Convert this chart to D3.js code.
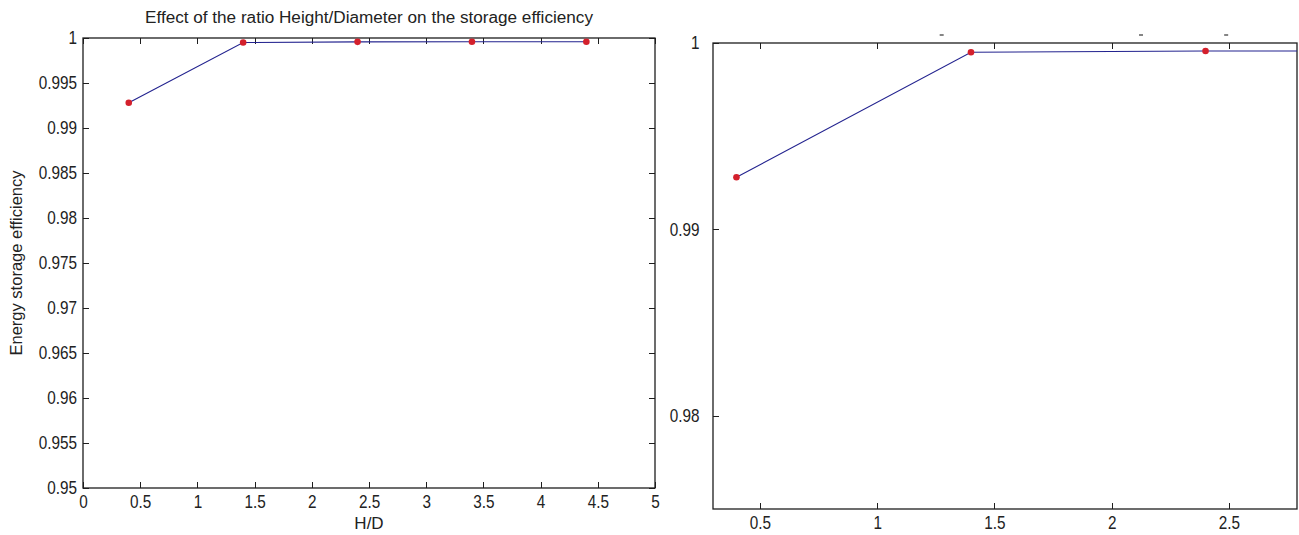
<!DOCTYPE html>
<html>
<head>
<meta charset="utf-8">
<script src="https://cdn.jsdelivr.net/npm/d3@7"></script>
<style>
  html, body { margin: 0; padding: 0; background: #fff; }
  svg { display: block; }
  text { font-family: "Liberation Sans", Arial, sans-serif; fill: #222; }
  .axis path.domain { display: none; }
  .axis line { stroke: #1e1e1e; stroke-width: 1; shape-rendering: crispEdges; }
  .axis text { font-size: 18px; }
</style>
</head>
<body>
<svg id="chart" width="1299" height="535"></svg>
<script>
// Height/Diameter ratio and the resulting energy storage efficiency
const ratioHD = [0.4, 1.4, 2.4, 3.4, 4.4];
const efficiency = [0.9928, 0.9995, 0.99957, 0.99958, 0.99958];

// Tick values for the full view (left) and the zoomed view (right)
const fullXTicks = [0, 0.5, 1, 1.5, 2, 2.5, 3, 3.5, 4, 4.5, 5];
const fullYTicks = [0.95, 0.955, 0.96, 0.965, 0.97, 0.975, 0.98, 0.985, 0.99, 0.995, 1];
const zoomXTicks = [0.5, 1, 1.5, 2, 2.5];
const zoomYTicks = [0.98, 0.99, 1];
// Fragments of a title cut off above the zoomed view
const zoomTitleMarks = [1.275, 2.125, 2.488];

const titleText = "Effect of the ratio Height/Diameter on the storage efficiency";
const xLabelText = "H/D";
const yLabelText = "Energy storage efficiency";

const svg = d3.select("#chart");
const fmt = v => String(+v.toFixed(3));
const lineColor = "#23238f";
const dotColor = "#d4202c";
const narrow = "scale(0.85,1)";

function drawPanel(opts) {
  const { left, right, top, bottom, xDomain, yDomain, xTicks, yTicks, id, showRight, yPad } = opts;
  const x = d3.scaleLinear().domain(xDomain).range([left, right]);
  const y = d3.scaleLinear().domain(yDomain).range([bottom, top]);
  const g = svg.append("g");

  g.append("clipPath").attr("id", id)
    .append("rect").attr("x", left).attr("y", top)
    .attr("width", right - left).attr("height", bottom - top);

  const tk = 6;
  g.append("g").attr("class", "axis").attr("transform", `translate(0,${bottom})`)
    .call(d3.axisBottom(x).tickValues(xTicks).tickFormat(fmt).tickSizeInner(-tk).tickSizeOuter(0).tickPadding(7))
    .selectAll("text").attr("transform", narrow);
  g.append("g").attr("class", "axis").attr("transform", `translate(0,${top})`)
    .call(d3.axisTop(x).tickValues(xTicks).tickFormat("").tickSizeInner(-tk).tickSizeOuter(0));
  g.append("g").attr("class", "axis").attr("transform", `translate(${left},0)`)
    .call(d3.axisLeft(y).tickValues(yTicks).tickFormat(fmt).tickSizeInner(-tk).tickSizeOuter(0).tickPadding(yPad))
    .selectAll("text").attr("transform", narrow);
  if (showRight) {
    g.append("g").attr("class", "axis").attr("transform", `translate(${right},0)`)
      .call(d3.axisRight(y).tickValues(yTicks).tickFormat("").tickSizeInner(-tk).tickSizeOuter(0));
  }

  // axes box
  g.append("rect").attr("x", left).attr("y", top)
    .attr("width", right - left).attr("height", bottom - top)
    .attr("fill", "none").attr("stroke", "#1e1e1e").attr("stroke-width", 1.3);

  const pts = ratioHD.map((d, i) => [d, efficiency[i]]);
  const plot = g.append("g").attr("clip-path", `url(#${id})`);
  plot.append("path").datum(pts)
    .attr("d", d3.line().x(d => x(d[0])).y(d => y(d[1])))
    .attr("fill", "none").attr("stroke", lineColor).attr("stroke-width", 1.1);
  plot.selectAll("circle").data(pts).join("circle")
    .attr("cx", d => x(d[0])).attr("cy", d => y(d[1]))
    .attr("r", 3.3).attr("fill", dotColor);

  return { x, y, g };
}

// Full view
const full = drawPanel({
  id: "clipFull", left: 83, right: 655, top: 38, bottom: 488,
  xDomain: [0, 5], yDomain: [0.95, 1],
  xTicks: fullXTicks, yTicks: fullYTicks, showRight: true, yPad: 7
});
full.g.append("text").attr("x", 369).attr("y", 23)
  .attr("text-anchor", "middle").attr("font-size", 16)
  .attr("textLength", 448).attr("lengthAdjust", "spacingAndGlyphs")
  .text(titleText);
full.g.append("text").attr("x", 369).attr("y", 529)
  .attr("text-anchor", "middle").attr("font-size", 17).text(xLabelText);
full.g.append("text")
  .attr("transform", `translate(22,${(38 + 488) / 2}) rotate(-90)`)
  .attr("text-anchor", "middle").attr("font-size", 17)
  .attr("textLength", 185).attr("lengthAdjust", "spacingAndGlyphs")
  .text(yLabelText);

// Zoomed view
const zoom = drawPanel({
  id: "clipZoom", left: 713, right: 1297, top: 43, bottom: 509,
  xDomain: [0.3, 2.79], yDomain: [0.975, 1],
  xTicks: zoomXTicks, yTicks: zoomYTicks, showRight: false, yPad: 16
});
zoom.g.selectAll("line.frag").data(zoomTitleMarks).join("line")
  .attr("class", "frag")
  .attr("x1", d => zoom.x(d) - 2).attr("x2", d => zoom.x(d) + 2)
  .attr("y1", 35).attr("y2", 35)
  .attr("stroke", "#333").attr("stroke-width", 1.2);
</script>
</body>
</html>
